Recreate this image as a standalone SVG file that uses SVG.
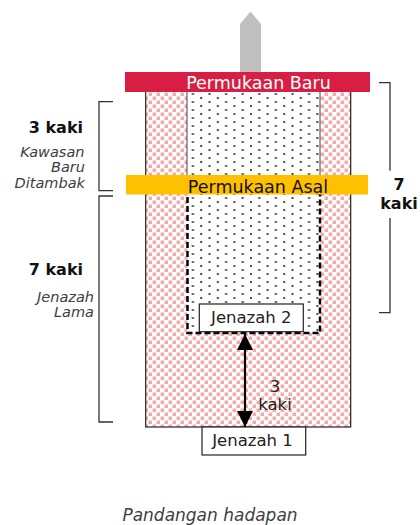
<svg xmlns="http://www.w3.org/2000/svg" width="420" height="525" viewBox="0 0 420 525">
  <defs>
    <pattern id="soil" x="0" y="0" width="8" height="8" patternUnits="userSpaceOnUse">
      <rect width="8" height="8" fill="#ffffff"/>
      <rect x="0.5" y="0.5" width="3.5" height="3.5" fill="#f6a9a7"/>
      <rect x="4.5" y="4.5" width="3.5" height="3.5" fill="#f6a9a7"/>
    </pattern>
    <pattern id="dots" x="0" y="0" width="16.6" height="8" patternUnits="userSpaceOnUse">
      <rect width="16.6" height="8" fill="#ffffff"/>
      <rect x="1" y="1" width="2" height="2" fill="#4a4a4a"/>
      <rect x="9.3" y="5" width="2" height="2" fill="#4a4a4a"/>
    </pattern>
    <marker id="ah" viewBox="0 0 16 16" refX="16" refY="8" markerWidth="16" markerHeight="16" markerUnits="userSpaceOnUse" orient="auto-start-reverse">
      <path d="M0,0 L16,8 L0,16 Z" fill="#000000"/>
    </marker>
  </defs>
  <style>
    .lbl { font-family: "DejaVu Sans", "Liberation Sans", sans-serif; }
    .bar { font-size: 17.5px; text-anchor: middle; }
    .box { font-size: 16.5px; text-anchor: middle; fill: #222222; }
    .bold { font-family: "DejaVu Sans", "Liberation Sans", sans-serif; font-weight: bold; font-size: 16px; fill: #111111; }
    .note { font-family: "DejaVu Sans", "Liberation Sans", sans-serif; font-style: italic; font-size: 14.5px; fill: #404040; text-anchor: end; }
    .brk { fill: none; stroke: #333333; stroke-width: 1.3; }
  </style>

  <g id="marker-post">
    <polygon points="240,24 250.5,11.5 261,24 261,80 240,80" fill="#bfbfbf"/>
  </g>

  <g id="grave-column">
    <rect x="145.7" y="88" width="205" height="339" fill="url(#soil)" stroke="#222222" stroke-width="1.2"/>
  </g>

  <g id="new-fill">
    <rect x="187" y="90" width="133" height="92" fill="url(#dots)" stroke="#333333" stroke-width="0.9"/>
  </g>

  <g id="old-grave">
    <rect x="187.5" y="188" width="132.5" height="145" fill="url(#dots)" stroke="#000000" stroke-width="2.5" stroke-dasharray="6 3"/>
  </g>

  <g id="permukaan-baru">
    <rect x="125" y="72" width="245" height="20" fill="#d81f43"/>
    <text x="258.5" y="89" class="lbl bar" fill="#ffffff">Permukaan Baru</text>
  </g>

  <g id="permukaan-asal">
    <rect x="126" y="175" width="242" height="19.5" fill="#ffc000"/>
    <text x="258" y="192.5" class="lbl bar" fill="#111111">Permukaan Asal</text>
  </g>

  <g id="jenazah-2">
    <rect x="199.3" y="304" width="104" height="27.7" fill="#ffffff" stroke="#222222" stroke-width="1.2"/>
    <text x="251.3" y="323" class="lbl box">Jenazah 2</text>
  </g>

  <g id="jenazah-1">
    <rect x="202" y="427" width="103.7" height="28" fill="#ffffff" stroke="#222222" stroke-width="1.2"/>
    <text x="252.5" y="446" class="lbl box">Jenazah 1</text>
  </g>

  <g id="connectors">
    <line x1="245" y1="334" x2="245" y2="427" stroke="#000000" stroke-width="2.2" marker-start="url(#ah)" marker-end="url(#ah)"/>
    <path class="brk" d="M113,101.7 H99 V190.7 H113"/>
    <path class="brk" d="M113,196 H99 V422 H113"/>
    <path class="brk" d="M379,82.7 H390 V170.7"/>
    <path class="brk" d="M390,218 V312.7 H379"/>
  </g>

  <g id="gap-label">
    <text x="275" y="391.5" class="lbl" font-size="16.5" text-anchor="middle" fill="#222222">3</text>
    <text x="275" y="410" class="lbl" font-size="16.5" text-anchor="middle" fill="#222222">kaki</text>
  </g>

  <g id="label-3kaki">
    <text x="83" y="133" class="bold" text-anchor="end">3 kaki</text>
    <text x="84.5" y="156.5" class="note">Kawasan</text>
    <text x="85" y="172" class="note">Baru</text>
    <text x="85" y="187.5" class="note">Ditambak</text>
  </g>

  <g id="label-7kaki-left">
    <text x="83" y="275" class="bold" text-anchor="end">7 kaki</text>
    <text x="94" y="301.5" class="note">Jenazah</text>
    <text x="94" y="317" class="note">Lama</text>
  </g>

  <g id="label-7kaki-right">
    <text x="399" y="189.5" class="bold" text-anchor="middle">7</text>
    <text x="399" y="208.5" class="bold" text-anchor="middle">kaki</text>
  </g>

  <g id="caption">
    <text x="210" y="521" font-family="DejaVu Sans, Liberation Sans, sans-serif" font-style="italic" font-size="17" text-anchor="middle" fill="#404040">Pandangan hadapan</text>
  </g>
</svg>
